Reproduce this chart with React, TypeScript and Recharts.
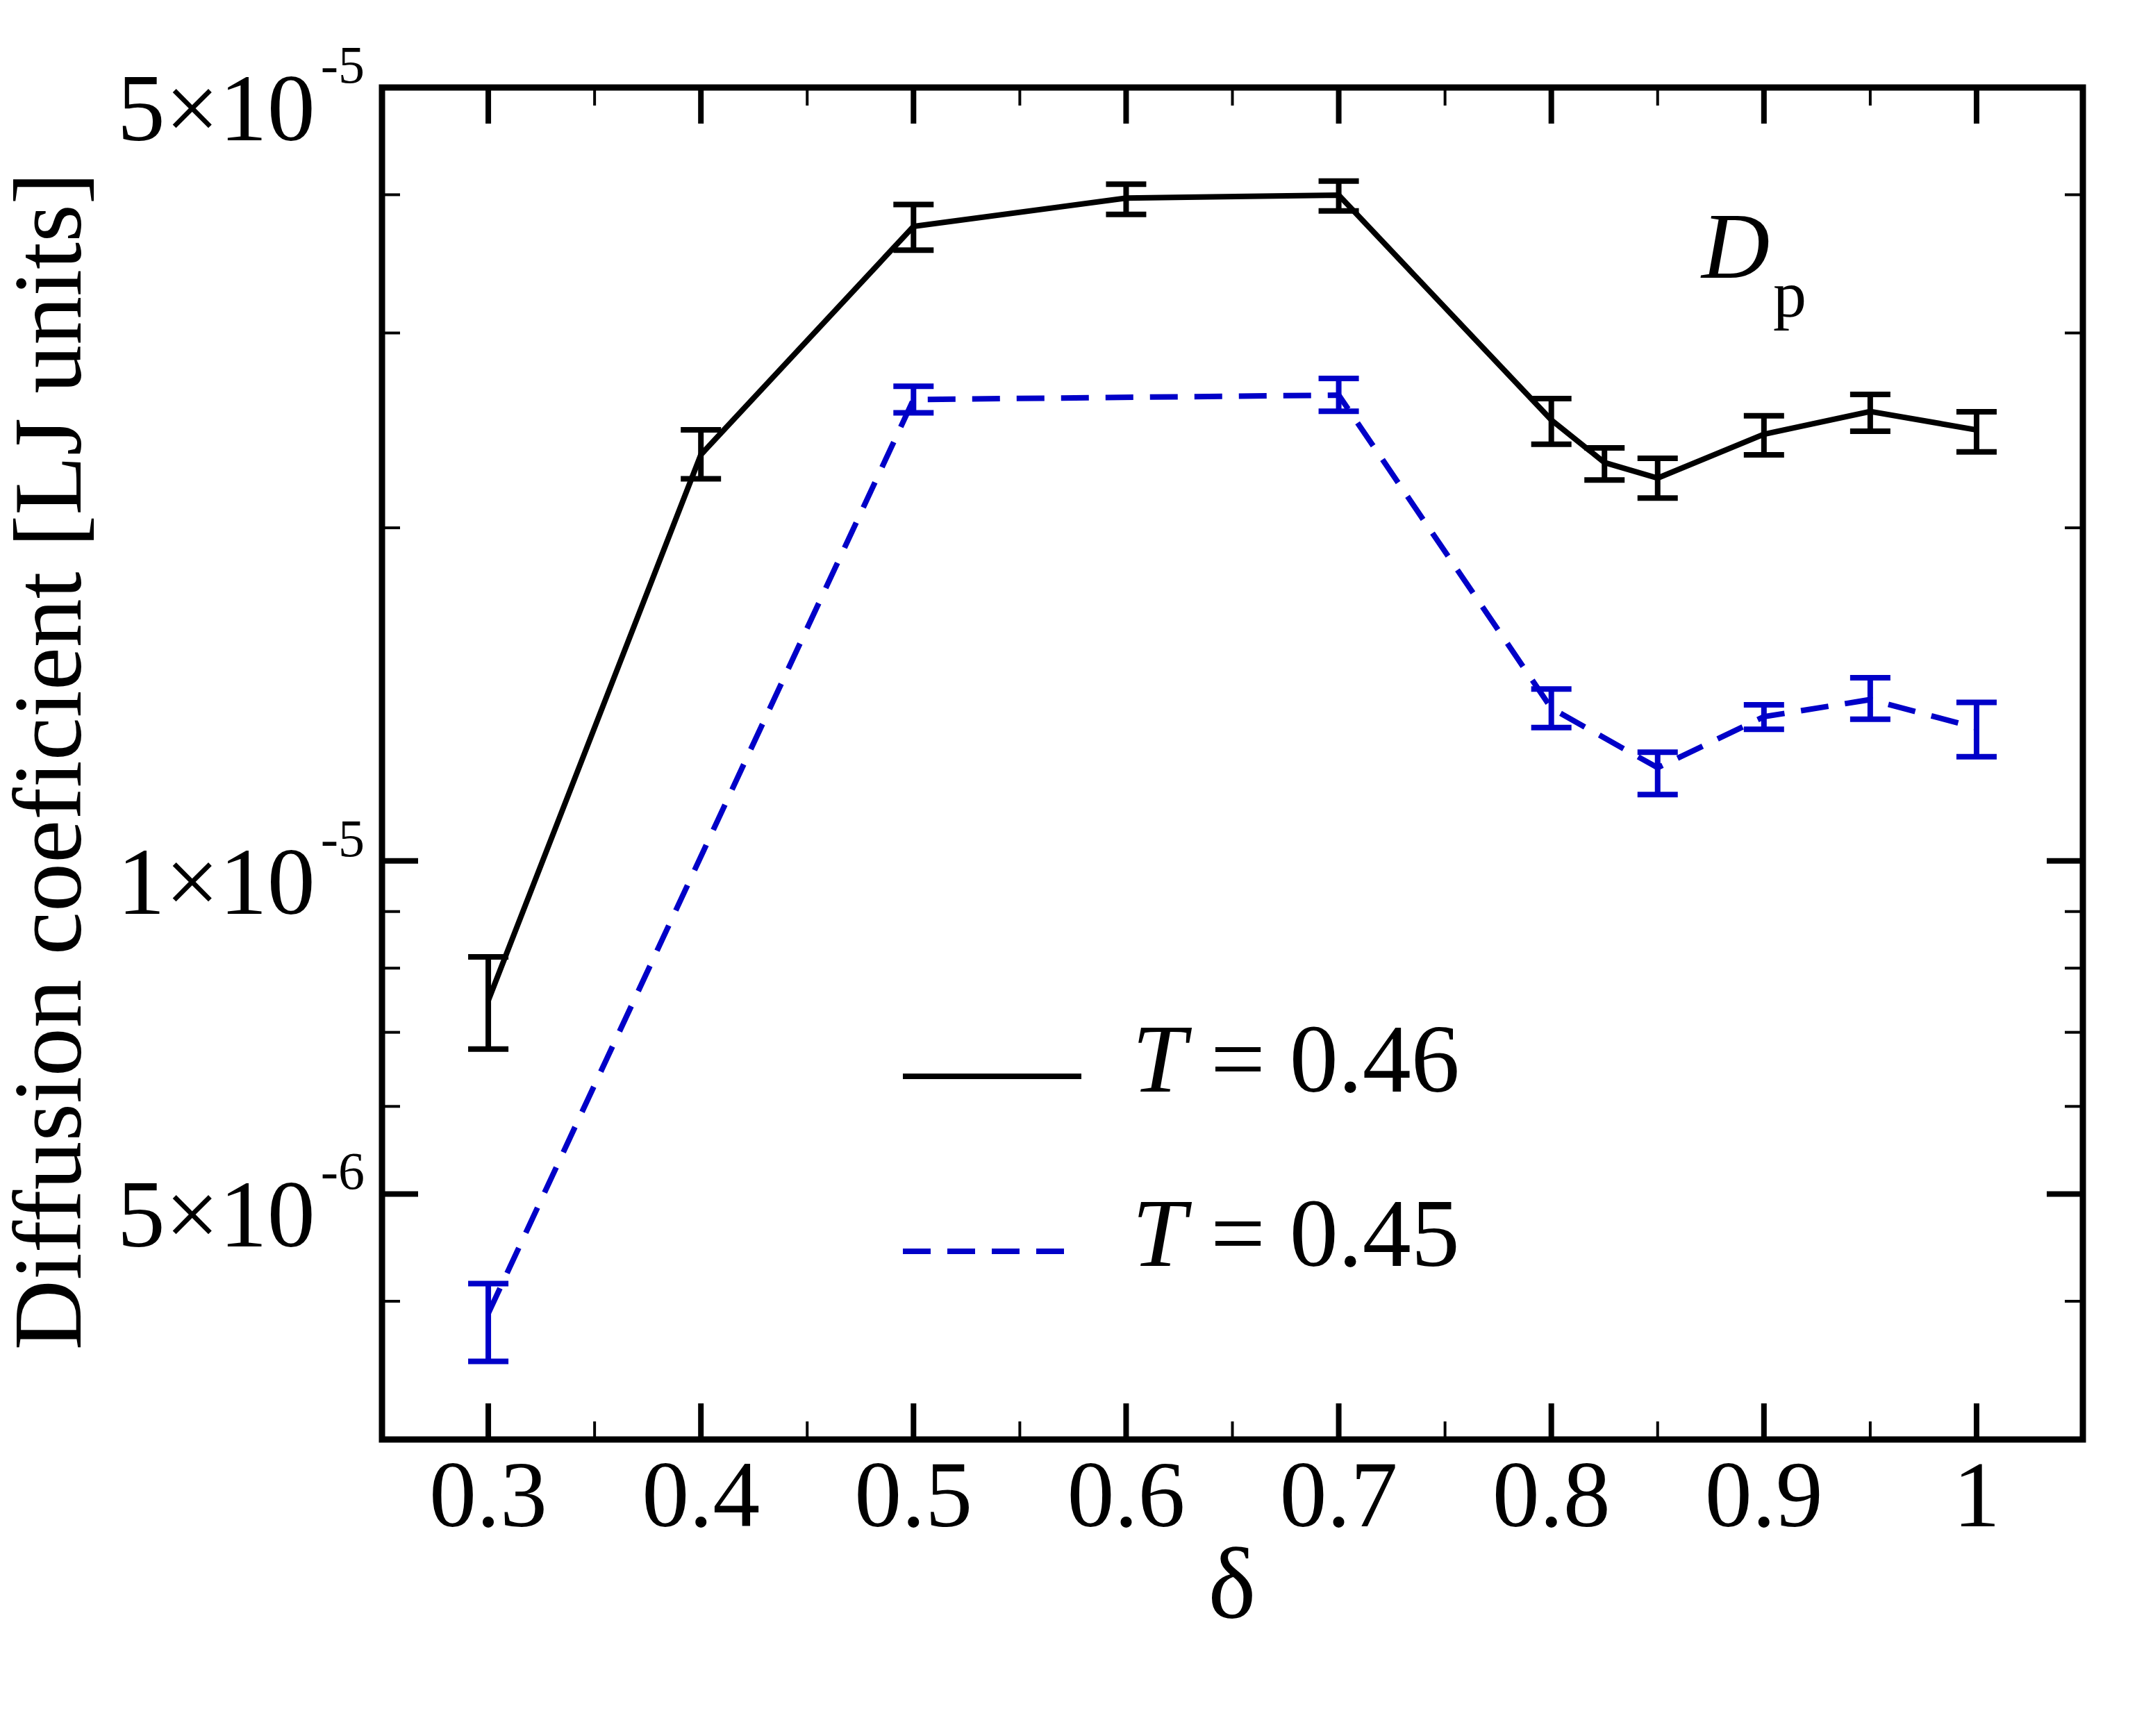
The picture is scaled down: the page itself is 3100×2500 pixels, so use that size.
import React from "react";
import {
  LineChart,
  Line,
  XAxis,
  YAxis,
  ErrorBar,
  ReferenceArea,
  Customized,
} from "recharts";

// ---------- data ----------
const deltaT046 = [0.3, 0.4, 0.5, 0.6, 0.7, 0.8, 0.825, 0.85, 0.9, 0.95, 1.0];
const dT046 = [7.48e-6, 2.329e-5, 3.745e-5, 3.972e-5, 3.997e-5, 2.503e-5, 2.291e-5, 2.218e-5, 2.43e-5, 2.548e-5, 2.452e-5];
const lowT046 = [6.76e-6, 2.215e-5, 3.564e-5, 3.84e-5, 3.868e-5, 2.38e-5, 2.209e-5, 2.128e-5, 2.328e-5, 2.445e-5, 2.342e-5];
const highT046 = [8.19e-6, 2.452e-5, 3.92e-5, 4.088e-5, 4.115e-5, 2.617e-5, 2.362e-5, 2.311e-5, 2.525e-5, 2.64e-5, 2.546e-5];

const deltaT045 = [0.3, 0.5, 0.7, 0.8, 0.85, 0.9, 0.95, 1.0];
const dT045 = [3.9e-6, 2.612e-5, 2.636e-5, 1.374e-5, 1.214e-5, 1.35e-5, 1.399e-5, 1.319e-5];
const lowT045 = [3.53e-6, 2.541e-5, 2.549e-5, 1.32e-5, 1.148e-5, 1.315e-5, 1.343e-5, 1.242e-5];
const highT045 = [4.15e-6, 2.685e-5, 2.729e-5, 1.43e-5, 1.254e-5, 1.384e-5, 1.464e-5, 1.391e-5];

const X_MAJOR = [0.3, 0.4, 0.5, 0.6, 0.7, 0.8, 0.9, 1.0];
const X_LABELS = ["0.3", "0.4", "0.5", "0.6", "0.7", "0.8", "0.9", "1"];
const X_MINOR = [0.35, 0.45, 0.55, 0.65, 0.75, 0.85, 0.95];

const Y_MAJOR = [5e-5, 1e-5, 5e-6];
const Y_MANT = ["5", "1", "5"];
const Y_EXP = ["-5", "-5", "-6"];
const Y_MINOR = [4e-5, 3e-5, 2e-5, 9e-6, 8e-6, 7e-6, 6e-6, 4e-6];

const X_DOMAIN = [0.25, 1.05];
const Y_DOMAIN = [3e-6, 5e-5];

const build = (xs: number[], ys: number[], lo: number[], hi: number[]) =>
  xs.map((x, i) => ({ x, y: ys[i], err: [ys[i] - lo[i], hi[i] - ys[i]] }));

const seriesT046 = build(deltaT046, dT046, lowT046, highT046);
const seriesT045 = build(deltaT045, dT045, lowT045, highT045);

// ---------- layout ----------
const W = 3084;
const H = 2484;
const PLOT = { left: 542, top: 118, right: 2991, bottom: 2065 };
const FONT = "'Liberation Serif', 'Times New Roman', serif";
const BLUE = "#0000c8";
const MAJ_LEN = 52;
const MIN_LEN = 26;

const XTick = (props: any) => {
  const { x, payload } = props;
  const v = payload.value;
  const idx = X_MAJOR.findIndex((m) => Math.abs(m - v) < 1e-9);
  const major = idx >= 0;
  const L = major ? MAJ_LEN : MIN_LEN;
  const sw = major ? 8 : 4;
  return (
    <g>
      <line x1={x} x2={x} y1={PLOT.bottom} y2={PLOT.bottom - L} stroke="#000" strokeWidth={sw} />
      <line x1={x} x2={x} y1={PLOT.top} y2={PLOT.top + L} stroke="#000" strokeWidth={sw} />
      {major && (
        <text x={x} y={2190} textAnchor="middle" fontFamily={FONT} fontSize={136} fill="#000">
          {X_LABELS[idx]}
        </text>
      )}
    </g>
  );
};

const YTick = (props: any) => {
  const { y, payload } = props;
  const v = payload.value;
  const idx = Y_MAJOR.findIndex((m) => Math.abs(m - v) / m < 1e-6);
  const major = idx >= 0;
  const L = major ? MAJ_LEN : MIN_LEN;
  const sw = major ? 8 : 4;
  return (
    <g>
      <line x1={PLOT.left} x2={PLOT.left + L} y1={y} y2={y} stroke="#000" strokeWidth={sw} />
      <line x1={PLOT.right - L} x2={PLOT.right} y1={y} y2={y} stroke="#000" strokeWidth={sw} />
      {major && (
        <text x={517} y={y + 76} textAnchor="end" fontFamily={FONT} fontSize={138} fill="#000">
          <tspan>{Y_MANT[idx] + "\u00d710"}</tspan>
          <tspan dx={8} dy={-83} fontSize={76}>
            {Y_EXP[idx]}
          </tspan>
        </text>
      )}
    </g>
  );
};

const Annotations = () => (
  <g>
    {/* axis titles */}
    <text x={1766} y={2322} textAnchor="middle" fontFamily={FONT} fontSize={146} fill="#000">
      δ
    </text>
    <text
      transform="translate(108,1088) rotate(-90)"
      textAnchor="middle"
      fontFamily={FONT}
      fontSize={140}
      fill="#000"
    >
      Diffusion coeficient [LJ units]
    </text>
    {/* D_p label */}
    <text x={2442} y={392} fontFamily={FONT} fontSize={136} fontStyle="italic" fill="#000">
      D
    </text>
    <text x={2545} y={448} fontFamily={FONT} fontSize={96} fill="#000">
      p
    </text>
    {/* legend */}
    <line x1={1292} x2={1549} y1={1542} y2={1542} stroke="#000" strokeWidth={8} />
    <text x={1622} y={1564} fontFamily={FONT} fontSize={140} fill="#000">
      <tspan fontStyle="italic">T</tspan>
      <tspan> = 0.46</tspan>
    </text>
    <line x1={1292} x2={1524} y1={1794} y2={1794} stroke={BLUE} strokeWidth={8} strokeDasharray="40 24" />
    <text x={1622} y={1815} fontFamily={FONT} fontSize={140} fill="#000">
      <tspan fontStyle="italic">T</tspan>
      <tspan> = 0.45</tspan>
    </text>
  </g>
);

export default function App() {
  return (
    <div style={{ width: W, height: H, background: "#fff" }}>
      <LineChart width={W} height={H} margin={{ top: PLOT.top, right: W - PLOT.right, bottom: 0, left: 0 }}>
        <XAxis
          type="number"
          dataKey="x"
          domain={X_DOMAIN}
          allowDataOverflow
          ticks={[...X_MAJOR, ...X_MINOR]}
          interval={0}
          tick={<XTick />}
          tickLine={false}
          axisLine={false}
          height={H - PLOT.bottom}
        />
        <YAxis
          type="number"
          scale="log"
          domain={Y_DOMAIN}
          allowDataOverflow
          ticks={[...Y_MAJOR, ...Y_MINOR]}
          interval={0}
          tick={<YTick />}
          tickLine={false}
          axisLine={false}
          width={PLOT.left}
        />
        <ReferenceArea
          x1={X_DOMAIN[0]}
          x2={X_DOMAIN[1]}
          y1={Y_DOMAIN[0]}
          y2={Y_DOMAIN[1]}
          fill="none"
          fillOpacity={0}
          stroke="#000"
          strokeWidth={9}
          ifOverflow="visible"
        />
        <Line
          data={seriesT046}
          dataKey="y"
          stroke="#000"
          strokeWidth={8}
          dot={false}
          activeDot={false}
          isAnimationActive={false}
        >
          <ErrorBar dataKey="err" direction="y" width={29} strokeWidth={8} stroke="#000" isAnimationActive={false} />
        </Line>
        <Line
          data={seriesT045}
          dataKey="y"
          stroke={BLUE}
          strokeWidth={8}
          strokeDasharray="40 24"
          dot={false}
          activeDot={false}
          isAnimationActive={false}
        >
          <ErrorBar dataKey="err" direction="y" width={29} strokeWidth={8} stroke={BLUE} isAnimationActive={false} />
        </Line>
        <Customized component={Annotations} />
      </LineChart>
    </div>
  );
}
